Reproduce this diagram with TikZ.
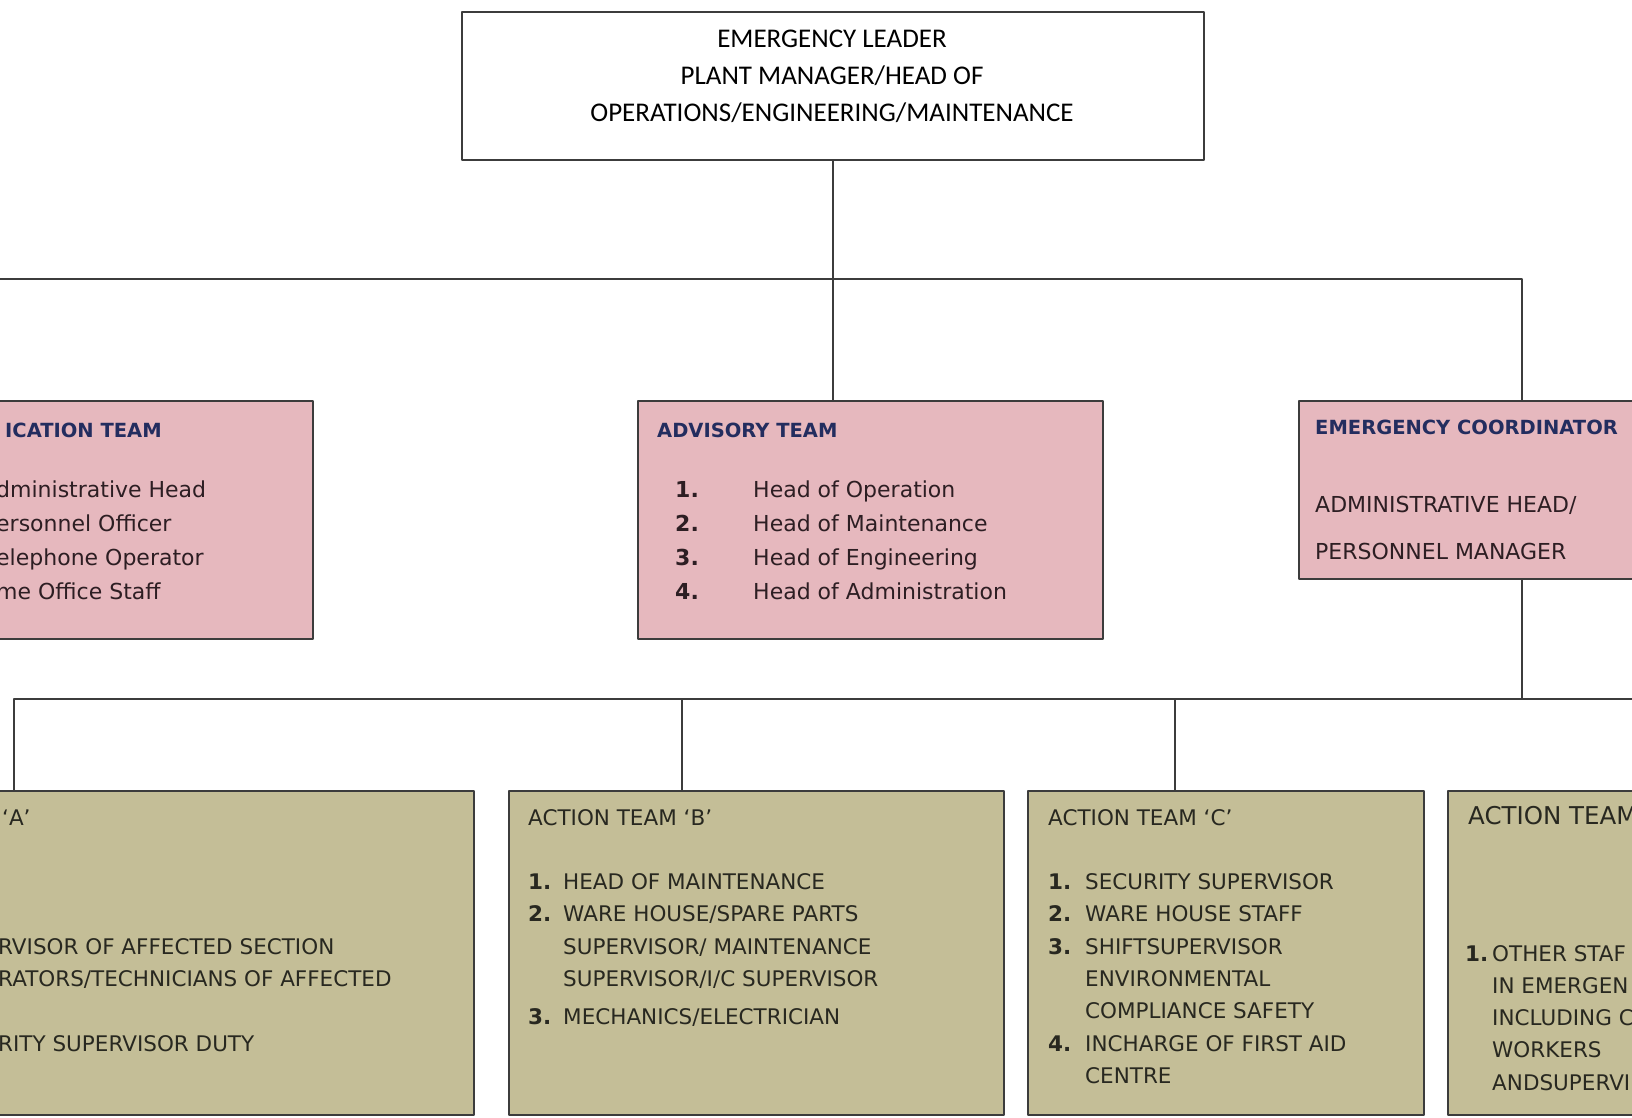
\documentclass[tikz,border=0pt]{standalone}
\usepackage{fontspec}
\setmainfont{DejaVu Sans}
\newfontfamily\calibri{Carlito}
\usetikzlibrary{positioning}
\definecolor{teampink}{RGB}{230,184,190}
\definecolor{actionkhaki}{RGB}{196,190,151}
\definecolor{headnavy}{RGB}{35,45,95}
\definecolor{inkdark}{RGB}{45,30,35}
\definecolor{inkgray}{RGB}{40,40,32}
\definecolor{rulegray}{RGB}{60,60,60}
\newcommand{\numb}[2]{\makebox[#1][l]{\bfseries #2}}
\newcommand{\teamhead}[1]{{\fontsize{19.5}{34}\selectfont\bfseries\color{headnavy}#1}}
\begin{document}
\begin{tikzpicture}[x=1pt,y=-1pt,line join=round,line cap=round]
	\tikzset{box/.style={draw=rulegray,line width=1.8pt,anchor=north west,inner sep=0pt},
		teambox/.style={box,fill=teampink},
		actionbox/.style={box,fill=actionkhaki},
		conn/.style={draw=rulegray,line width=1.6pt},
		txt/.style={anchor=base west,inner sep=0pt,text=inkdark,font=\fontsize{22}{34}\selectfont},
		acttxt/.style={anchor=base west,inner sep=0pt,text=inkgray,font=\fontsize{21.5}{32.3}\selectfont}}
	\def\hibus{279}
	\def\lobus{699}
	\useasboundingbox (0,0) rectangle (1632,1117);
	\clip (0,0) rectangle (1632,1117);
	% boxes
	\node[box,minimum width=742pt,minimum height=148pt] (leader) at (461,11) {};
	\node[teambox,minimum width=512pt,minimum height=238pt] (comm) at (-200,400) {};
	\node[teambox,minimum width=465pt,minimum height=238pt] (adv) at (637,400) {};
	\node[teambox,minimum width=460pt,minimum height=178pt] (coord) at (1298,400) {};
	\node[actionbox,minimum width=503pt,minimum height=324pt] (acta) at (-30,790) {};
	\node[actionbox,minimum width=495pt,minimum height=324pt] (actb) at (508,790) {};
	\node[actionbox,minimum width=396pt,minimum height=324pt] (actc) at (1027,790) {};
	\node[actionbox,minimum width=403pt,minimum height=324pt] (actd) at (1447,790) {};
	% connectors
	\coordinate (hb) at (0,\hibus);
	\coordinate (lb) at (0,\lobus);
	\coordinate (commtop) at (-60,400);
	\coordinate (coordtop) at (1522,400);
	\coordinate (atop) at (14,790);
	\coordinate (btop) at (682,790);
	\coordinate (ctop) at (1175,790);
	\coordinate (dtop) at (1700,790);
	\draw[conn] (leader.south) -- (leader.south |- adv.north);
	\draw[conn] (commtop) -- (commtop |- hb) -| (coordtop);
	\draw[conn] (coordtop |- coord.south) -- (coordtop |- lb);
	\draw[conn] (atop) -- (atop |- lb) -| (dtop);
	\draw[conn] (btop) -- (btop |- lb);
	\draw[conn] (ctop) -- (ctop |- lb);
	% texts
	\node[anchor=base,inner sep=0pt,font=\calibri\fontsize{27}{37}\selectfont] (leadertxt) at (832,47)
		{\begin{tabular}[t]{@{}c@{}}EMERGENCY LEADER\\PLANT MANAGER/HEAD OF\\OPERATIONS/ENGINEERING/MAINTENANCE\end{tabular}};
	\node[txt] (commtxt) at (-4,437) {\begin{tabular}[t]{@{}l@{}}
		\hspace*{9pt}\teamhead{ICATION TEAM}\\[26pt]
		dministrative Head\\
		ersonnel Officer\\
		elephone Operator\\
		me Office Staff
	\end{tabular}};
	\node[txt] (advtxt) at (657,437) {\begin{tabular}[t]{@{}l@{}}
		\teamhead{ADVISORY TEAM}\\[26pt]
		\hspace*{18pt}\numb{78pt}{1.}Head of Operation\\
		\hspace*{18pt}\numb{78pt}{2.}Head of Maintenance\\
		\hspace*{18pt}\numb{78pt}{3.}Head of Engineering\\
		\hspace*{18pt}\numb{78pt}{4.}Head of Administration
	\end{tabular}};
	\node[txt] (coordtxt) at (1315,434) {\begin{tabular}[t]{@{}l@{}}
		\teamhead{EMERGENCY COORDINATOR}\\[44pt]
		ADMINISTRATIVE HEAD/\\[13pt]
		PERSONNEL MANAGER
	\end{tabular}};
	\node[acttxt] (actatxt) at (-2,825) {\begin{tabular}[t]{@{}l@{}}
		\hspace*{4pt}‘A’\\[96.9pt]
		RVISOR OF AFFECTED SECTION\\
		RATORS/TECHNICIANS OF AFFECTED\\[32.3pt]
		RITY SUPERVISOR DUTY
	\end{tabular}};
	\node[acttxt] (actbtxt) at (528,825) {\begin{tabular}[t]{@{}l@{}}
		ACTION TEAM ‘B’\\[32.3pt]
		\numb{35pt}{1.}HEAD OF MAINTENANCE\\
		\numb{35pt}{2.}WARE HOUSE/SPARE PARTS\\
		\hspace*{35pt}SUPERVISOR/ MAINTENANCE\\
		\hspace*{35pt}SUPERVISOR/I/C SUPERVISOR\\[6pt]
		\numb{35pt}{3.}MECHANICS/ELECTRICIAN
	\end{tabular}};
	\node[acttxt] (actctxt) at (1048,825) {\begin{tabular}[t]{@{}l@{}}
		ACTION TEAM ‘C’\\[32.3pt]
		\numb{37pt}{1.}SECURITY SUPERVISOR\\
		\numb{37pt}{2.}WARE HOUSE STAFF\\
		\numb{37pt}{3.}SHIFTSUPERVISOR\\
		\hspace*{37pt}ENVIRONMENTAL\\
		\hspace*{37pt}COMPLIANCE SAFETY\\
		\numb{37pt}{4.}INCHARGE OF FIRST AID\\
		\hspace*{37pt}CENTRE
	\end{tabular}};
	\node[acttxt,font=\fontsize{24.5}{32.3}\selectfont] (actdhead) at (1468,824) {ACTION TEAM};
	\node[acttxt] (actdtxt) at (1465,961) {\begin{tabular}[t]{@{}l@{}}
		\numb{27pt}{1.}OTHER STAF\\
		\hspace*{27pt}IN EMERGEN\\
		\hspace*{27pt}INCLUDING C\\
		\hspace*{27pt}WORKERS\\
		\hspace*{27pt}ANDSUPERVI
	\end{tabular}};
\end{tikzpicture}
\end{document}
